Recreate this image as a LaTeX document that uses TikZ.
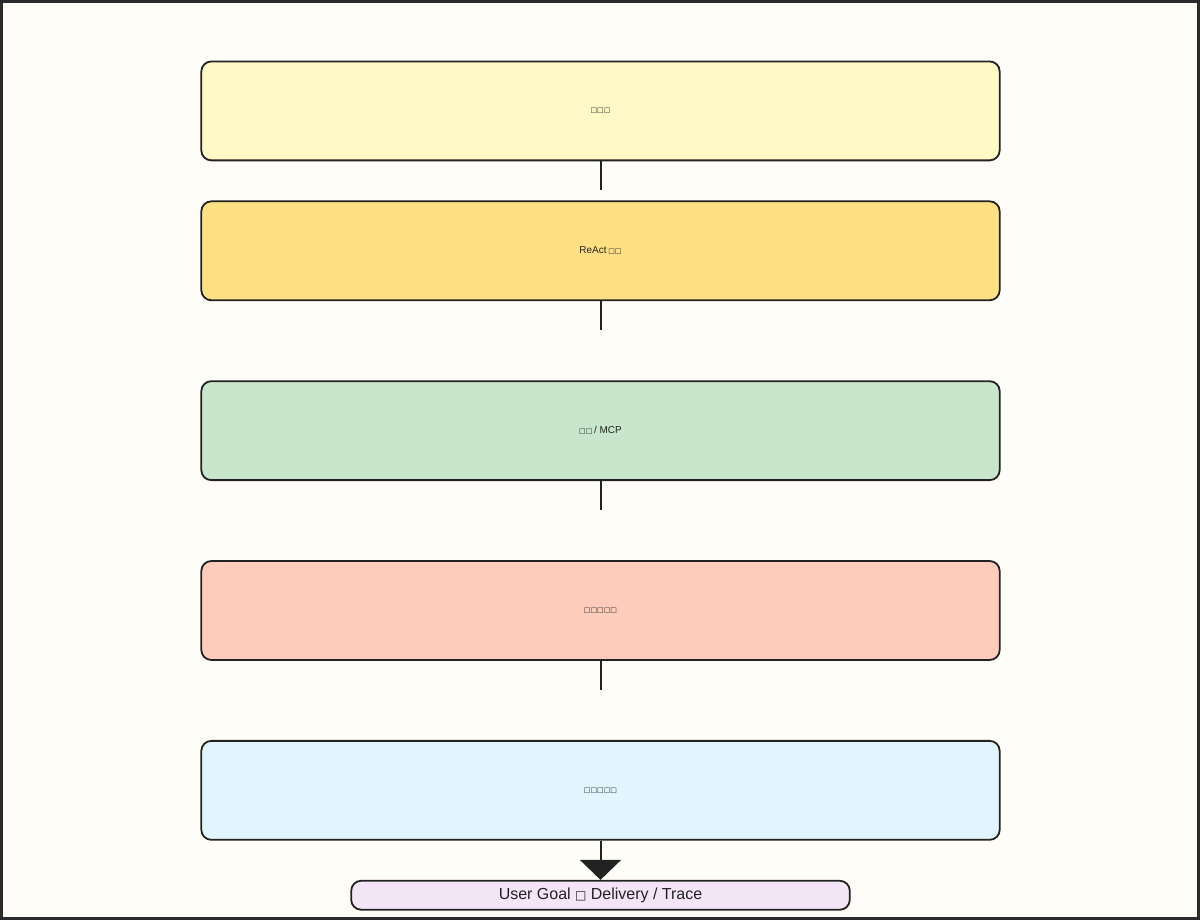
\documentclass[tikz,border=0pt]{standalone}
\usepackage{fontspec}
\setmainfont{Liberation Sans}
\newfontfamily\symfont{DejaVu Sans}
\usetikzlibrary{arrows.meta}
\definecolor{bgc}{HTML}{FEFDF8}
\definecolor{framec}{HTML}{2B2B2B}
\definecolor{linec}{HTML}{222222}
\definecolor{ca}{HTML}{FFF9C6}
\definecolor{cb}{HTML}{FFE082}
\definecolor{cc}{HTML}{C8E6CC}
\definecolor{cd}{HTML}{FFCCBC}
\definecolor{ce}{HTML}{E1F5FE}
\definecolor{cf}{HTML}{F3E5F5}
\newcommand{\tf}[1]{{\symfont\bfseries\fontsize{7}{7}\selectfont #1}}
\begin{document}
\begin{tikzpicture}[x=1pt,y=-1pt,
  layer/.style={draw=linec, line width=1.8pt, rounded corners=10pt, minimum width=799pt, minimum height=99pt, inner sep=0pt, font=\fontsize{10}{12}\selectfont, text=linec},
  pill/.style={draw=linec, line width=1.8pt, rounded corners=10pt, minimum width=499pt, minimum height=29pt, inner sep=0pt, font=\fontsize{16}{18}\selectfont, text=linec},
  stub/.style={draw=linec, line width=2pt}]
\fill[bgc] (0,0) rectangle (1200,920);
\draw[framec, line width=3pt] (1,1) rectangle (1199,919);
\useasboundingbox (0,0) rectangle (1200,920);
\node[layer, fill=ca] (n1) at (600.5,110.5) {\raisebox{-2pt}{\tf{□□□}}};
\node[layer, fill=cb] (n2) at (600.5,250.5) {\raisebox{-2pt}{ReAct\,\tf{□□}}};
\node[layer, fill=cc] (n3) at (600.5,430.5) {\raisebox{-2pt}{\tf{□□}\,/ MCP}};
\node[layer, fill=cd] (n4) at (600.5,610.5) {\raisebox{-2pt}{\tf{□□□□□}}};
\node[layer, fill=ce] (n5) at (600.5,790.5) {\raisebox{-2pt}{\tf{□□□□□}}};
\node[pill, fill=cf] (p) at (600.5,895.5) {User Goal {\symfont\fontsize{12}{14}\selectfont □} Delivery / Trace};
\coordinate (s1) at (600.5,190);
\coordinate (s2) at (600.5,330);
\coordinate (s3) at (600.5,510);
\coordinate (s4) at (600.5,690);
\draw[stub] (n1.south) -- (s1);
\draw[stub] (n2.south) -- (s2);
\draw[stub] (n3.south) -- (s3);
\draw[stub] (n4.south) -- (s4);
\draw[stub, -{Triangle[width=41pt,length=20pt]}] (n5.south) -- (p.north);
\end{tikzpicture}
\end{document}
